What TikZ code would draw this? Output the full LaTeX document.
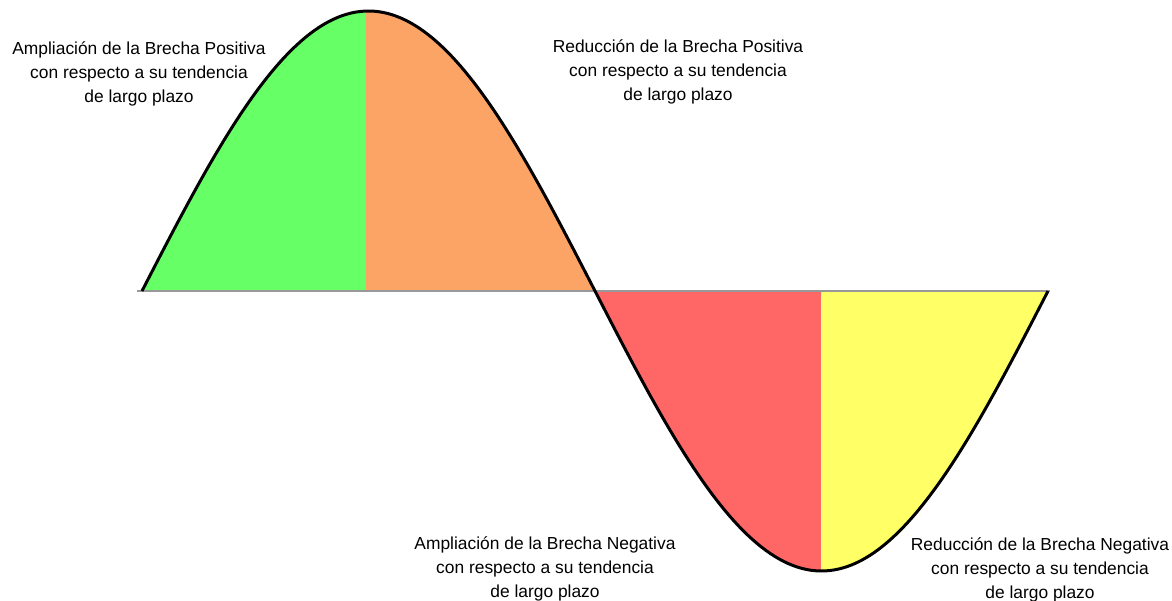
\documentclass[tikz,border=0pt]{standalone}
\usepackage{fontspec}
\setmainfont{Liberation Sans}
\usepackage{tikz}
\usetikzlibrary{positioning}

\definecolor{verde}{HTML}{66FF66}
\definecolor{naranja}{HTML}{FCA466}
\definecolor{rojo}{HTML}{FF6666}
\definecolor{amarillo}{HTML}{FFFF66}

\begin{document}
\begin{tikzpicture}[x=0.02cm, y=-0.02cm]
    % Define styles
    \tikzstyle{brecha} = [align=center, inner sep=0pt, text=black, font=\fontsize{9.9}{13.7}\selectfont]
    \tikzstyle{onda} = [line width=1.7pt, line join=round, black]
    \tikzstyle{eje} = [line width=0.6pt, black!40]
    \useasboundingbox (0,0) rectangle (1172,601);

    % Filled quarters
    \fill[verde] (142,291) -- plot[domain=142:366, samples=60] ({\x},{291-280*sin((\x-142)/906*360)}) -- (366,291) -- cycle;
    \fill[naranja] (366,291) -- plot[domain=366:595, samples=60] ({\x},{291-280*sin((\x-142)/906*360)}) -- cycle;
    \fill[rojo] (595,291) -- plot[domain=595:821, samples=60] ({\x},{291-280*sin((\x-142)/906*360)}) -- (821,291) -- cycle;
    \fill[amarillo] (821,291) -- plot[domain=821:1048, samples=60] ({\x},{291-280*sin((\x-142)/906*360)}) -- cycle;

    % Axis and curve
    \coordinate (ini) at (137,291);
    \coordinate (fin) at (1050,291);
    \draw[eje] (ini) -- (fin);
    \draw[onda] plot[domain=142:1048, samples=200] ({\x},{291-280*sin((\x-142)/906*360)});

    % Labels
    \node[brecha] (ampPos) at (139,74) {Ampliación de la Brecha Positiva\\con respecto a su tendencia\\de largo plazo};
    \node[brecha] (redPos) at (678,72) {Reducción de la Brecha Positiva\\con respecto a su tendencia\\de largo plazo};
    \node[brecha] (ampNeg) at (545,569) {Ampliación de la Brecha Negativa\\con respecto a su tendencia\\de largo plazo};
    \node[brecha] (redNeg) at (1040,570) {Reducción de la Brecha Negativa\\con respecto a su tendencia\\de largo plazo};
\end{tikzpicture}
\end{document}
